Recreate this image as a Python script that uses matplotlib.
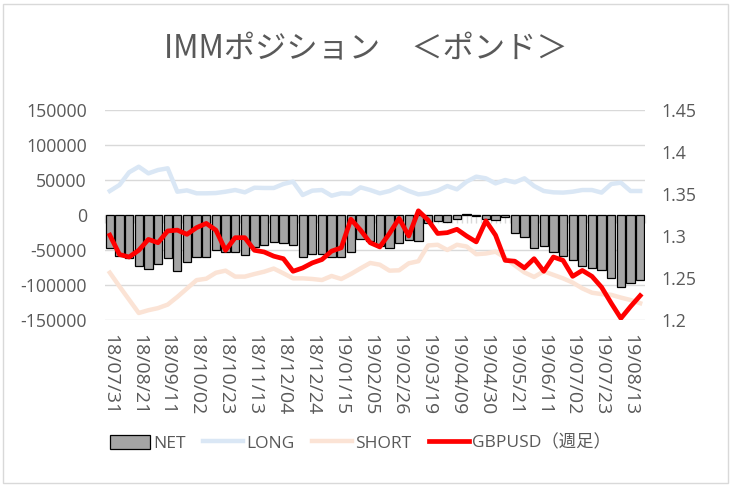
import numpy as np
import matplotlib
matplotlib.use('Agg')
import matplotlib.pyplot as plt
from matplotlib.patches import Patch, Rectangle
from matplotlib.lines import Line2D
from matplotlib.ticker import FuncFormatter, FixedLocator

plt.rcParams['font.family'] = ['Open Sans', 'Noto Sans CJK JP', 'DejaVu Sans']

# weekly report dates (yy/mm/dd)
dates = ['18/07/31', '18/08/07', '18/08/14', '18/08/21', '18/08/28', '18/09/04',
         '18/09/11', '18/09/18', '18/09/25', '18/10/02', '18/10/09', '18/10/16',
         '18/10/23', '18/10/30', '18/11/06', '18/11/13', '18/11/20', '18/11/27',
         '18/12/04', '18/12/11', '18/12/18', '18/12/24', '18/12/31', '19/01/08',
         '19/01/15', '19/01/22', '19/01/29', '19/02/05', '19/02/12', '19/02/19',
         '19/02/26', '19/03/05', '19/03/12', '19/03/19', '19/03/26', '19/04/02',
         '19/04/09', '19/04/16', '19/04/23', '19/04/30', '19/05/07', '19/05/14',
         '19/05/21', '19/05/28', '19/06/04', '19/06/11', '19/06/18', '19/06/25',
         '19/07/02', '19/07/09', '19/07/16', '19/07/23', '19/07/30', '19/08/06',
         '19/08/13', '19/08/20']

net = [-47600, -58600, -61000, -72500, -77000, -69500, -61000, -79500, -66700, -60000,
       -60500, -50500, -52800, -52400, -56500, -46000, -42900, -39000, -40500, -42500,
       -60500, -56000, -56000, -60500, -60500, -52800, -34600, -37500, -44000, -47600,
       -39500, -35000, -37000, -12000, -8300, -10000, -6000, 800, -1200, -5200,
       -6500, -3000, -26200, -31900, -47600, -44800, -52400, -58000, -64000, -72900,
       -76200, -78600, -89500, -102400, -96500, -92500]

long_pos = [34300, 42900, 61000, 69000, 59500, 64300, 66700, 33300, 35200, 31000,
            31000, 31400, 33300, 35700, 32400, 39000, 38600, 38600, 44300, 47600,
            28600, 34800, 35700, 27600, 31000, 30500, 39500, 35700, 31000, 34300,
            40500, 34300, 29500, 31000, 34800, 41400, 36700, 47600, 54800, 52400,
            45200, 50000, 46700, 52400, 41400, 34300, 32400, 32000, 33300, 35700,
            35700, 32000, 44300, 46200, 34300, 34300]

short_pos = [-82400, -102000, -121000, -140000, -136000, -133000, -128000, -117000, -105000, -93000,
             -91000, -82500, -79500, -88000, -88000, -84300, -81000, -76500, -83300, -90500,
             -90500, -91400, -92900, -87100, -91400, -84300, -76200, -68500, -71000, -79500,
             -79000, -69000, -66000, -43500, -42500, -50000, -42500, -45000, -56000, -55000,
             -52400, -61000, -72000, -82000, -88500, -80500, -85500, -90500, -96500, -104800,
             -111000, -113000, -114000, -118000, -121400, -126000]

gbpusd = [1.301, 1.278, 1.275, 1.283, 1.296, 1.292, 1.306, 1.307, 1.302, 1.310,
          1.315, 1.307, 1.283, 1.298, 1.298, 1.283, 1.281, 1.276, 1.273, 1.258,
          1.262, 1.268, 1.272, 1.282, 1.286, 1.320, 1.307, 1.292, 1.287, 1.303,
          1.321, 1.300, 1.330, 1.319, 1.303, 1.304, 1.308, 1.300, 1.293, 1.318,
          1.301, 1.271, 1.270, 1.262, 1.273, 1.258, 1.275, 1.271, 1.252, 1.259,
          1.252, 1.239, 1.220, 1.202, 1.216, 1.229]

txt = '#595959'
grid = '#D9D9D9'
x = np.arange(len(dates))

fig = plt.figure(figsize=(7.4, 4.87), dpi=100)
ax = fig.add_axes([0.1419, 0.3429, 0.7297, 0.4312])

ax.bar(x, net, width=0.86, color='#A5A5A5', edgecolor='black', linewidth=0.9, zorder=2)
ax.plot(x, long_pos, color='#DAE7F5', linewidth=3.2, zorder=3, solid_joinstyle='round')
ax.plot(x, short_pos, color='#FBE3D5', linewidth=3.2, zorder=3, solid_joinstyle='round')

ax.set_xlim(-0.5, len(dates) - 0.5)
ax.set_ylim(-150000, 150000)
ax.set_yticks(np.arange(-150000, 150001, 50000))
ax.yaxis.set_major_formatter(FuncFormatter(lambda v, p: f'{int(v)}'))
ax.grid(axis='y', color=grid, linewidth=1, zorder=0)
ax.set_axisbelow(True)
for s in ax.spines.values():
    s.set_visible(False)
ax.tick_params(axis='y', length=0, pad=13, labelsize=12.8, labelcolor=txt)

ax.set_xticks(x[::3])
ax.set_xticklabels(dates[::3], rotation=270, fontsize=14, color=txt)
ax.tick_params(axis='x', length=0, pad=10)

# category axis drawn along the zero line
zero = ax.secondary_xaxis(0.5)
zero.xaxis.set_major_locator(FixedLocator(np.arange(-0.5, len(dates), 0.5)))
zero.tick_params(axis='x', direction='in', length=6, color=grid, width=1,
                 labelbottom=False, labeltop=False)
zero.spines['bottom'].set_color(grid)
for k in ['top', 'left', 'right']:
    zero.spines[k].set_visible(False)

ax2 = ax.twinx()
ax2.plot(x, gbpusd, color='#FF0000', linewidth=3.4, zorder=4, solid_joinstyle='round')
ax2.set_ylim(1.2, 1.45)
ax2.set_yticks([1.2, 1.25, 1.3, 1.35, 1.4, 1.45])
ax2.set_yticklabels(['1.2', '1.25', '1.3', '1.35', '1.4', '1.45'])
for s in ax2.spines.values():
    s.set_visible(False)
ax2.tick_params(axis='y', length=0, pad=12, labelsize=12.8, labelcolor=txt)

fig.text(0.494, 0.899, 'IMMポジション　＜ポンド＞', ha='center', va='center',
         fontsize=22.5, color=txt, family=['Noto Sans CJK JP', 'DejaVu Sans'])

handles = [Patch(facecolor='#A5A5A5', edgecolor='black', linewidth=0.9),
           Line2D([0], [0], color='#DAE7F5', linewidth=3.2),
           Line2D([0], [0], color='#FBE3D5', linewidth=3.2),
           Line2D([0], [0], color='#FF0000', linewidth=3.4)]
labels = ['NET', 'LONG', 'SHORT', 'GBPUSD（週足）']
fig.legend(handles, labels, loc='center', bbox_to_anchor=(0.487, 0.09), ncol=4,
           frameon=False, fontsize=12.5, labelcolor=txt, handlelength=2.3,
           handleheight=0.9, handletextpad=0.2, columnspacing=1.0)

fig.patches.append(Rectangle((0.004, 0.008), 0.98, 0.983, transform=fig.transFigure,
                             fill=False, edgecolor=grid, linewidth=1))

fig.savefig('out.png', dpi=100)
